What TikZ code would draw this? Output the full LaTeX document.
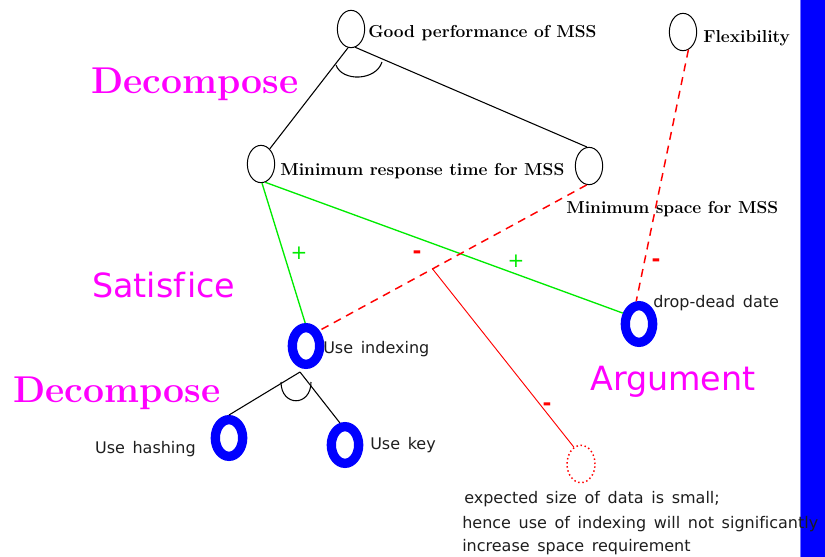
\documentclass[tikz,border=0pt]{standalone}
\usepackage{fontspec}
\newfontfamily\dejavu[Ligatures=NoCommon]{DejaVu Sans}
\newfontfamily\dejavuwide[Ligatures=NoCommon, WordSpace=1.5]{DejaVu Sans}
\usetikzlibrary{shapes.geometric}
\definecolor{lgreen}{RGB}{0,235,0}
\definecolor{pureblue}{RGB}{0,0,255}
\definecolor{puremag}{RGB}{255,0,255}
\definecolor{txtgray}{RGB}{30,30,30}
\begin{document}
\begin{tikzpicture}[x=0.75pt,y=-0.75pt,
  goal/.style={ellipse, draw, line width=0.75pt, minimum width=20.5pt, minimum height=28pt, inner sep=0pt},
  task/.style={ellipse, draw=pureblue, line width=7pt, minimum width=20.5pt, minimum height=27.5pt, inner sep=0pt},
  claim/.style={ellipse, draw=red, dotted, line width=1.1pt, minimum width=21pt, minimum height=28pt, inner sep=0pt},
  glabel/.style={font=\fontsize{13}{15}\selectfont\bfseries, anchor=base west, inner sep=0pt},
  slabel/.style={font=\dejavuwide\fontsize{12}{14}\selectfont, text=txtgray, anchor=base west, inner sep=0pt},
  biglabel/.style={font=\dejavu\fontsize{25}{30}\selectfont, text=puremag, anchor=base west, inner sep=0pt},
  declabel/.style={font=\fontsize{28}{34}\selectfont\bfseries, text=puremag, anchor=base west, inner sep=0pt},
  plus/.style={font=\dejavu\fontsize{15}{17}\selectfont, text=lgreen, inner sep=0pt},
  minus/.style={font=\dejavu\bfseries\fontsize{16}{18}\selectfont, text=red, inner sep=0pt},
  andline/.style={line width=0.8pt},
  greenline/.style={draw=lgreen, line width=1pt},
  reddash/.style={draw=red, line width=1.1pt, dash pattern=on 6pt off 4.5pt},
  redline/.style={draw=red, line width=0.7pt}
]
\useasboundingbox (0,0) rectangle (825,557);
% blue bar
\fill[pureblue] (800,0) rectangle (825,557);
\draw[pureblue!55, line width=0.75pt] (800.5,0) -- (800.5,557);

% goals
\node[goal] (gp) at (351,29) {};
\node[goal] (fl) at (683,32) {};
\node[goal] (mr) at (261,164) {};
\node[goal] (ms) at (589,166) {};
% tasks
\node[task] (ui) at (306,346) {};
\node[task] (uh) at (229,438) {};
\node[task] (uk) at (345,445) {};
\node[task] (dd) at (639,324) {};
% claim
\node[claim] (cl) at (581,464) {};

% labels of goals
\node[glabel] (tgp) at (368,37) {Good performance of MSS};
\node[glabel] (tfl) at (703,42) {Flexibility};
\node[glabel] (tmr) at (280,175) {Minimum response time for MSS};
\node[glabel] (tms) at (566,213) {Minimum space for MSS};
% labels of tasks
\node[slabel] (tui) at (323,353) {Use indexing};
\node[slabel, anchor=base east] (tuh) at (196,453) {Use hashing};
\node[slabel] (tuk) at (370,449) {Use key};
\node[slabel] (tdd) at (653,307) {drop-dead date};
\node[slabel] (tc1) at (464,503) {expected size of data is small;};
\node[slabel] (tc2) at (462,528) {hence use of indexing will not signif\kern0pt icantly};
\node[slabel] (tc3) at (462,551) {increase space requirement};

% big annotations
\node[declabel] (dec1) at (91,93) {Decompose};
\node[declabel] (dec2) at (13,402) {Decompose};
\node[biglabel] (sat) at (92,297) {Satisf\kern1.5pt ice};
\node[biglabel] (arg) at (590,390) {Argument};

% AND decomposition of good performance
\draw[andline] (gp.-99) -- (mr.60);
\draw[andline] (gp.-77) -- (ms.96);
\draw[andline] (336,65) .. controls (342,82) and (376,81) .. (382,62);

% AND decomposition of use indexing
\coordinate (ap) at (300,372);
\draw[andline] (ap) -- (uh.north);
\draw[andline] (ap) -- (uk.103);
\draw[andline] (281,382) .. controls (281,407) and (311,407) .. (311,382);

% contributions
\draw[greenline] (mr.-87) -- (ui.92);
\draw[greenline] (mr.-77) -- (dd.146);
\draw[reddash] (ms.-97) -- coordinate[pos=0.577] (br) (ui.49);
\draw[redline] (br) -- (cl.113);
\draw[reddash] (fl.-73) -- (dd.97);

% contribution signs
\node[plus] (p1) at (299,253) {+};
\node[plus] (p2) at (516,261) {+};
\node[minus] (m1) at (417,255) {-};
\node[minus] (m2) at (547,407) {-};
\node[minus] (m3) at (656,263) {-};
\end{tikzpicture}
\end{document}
